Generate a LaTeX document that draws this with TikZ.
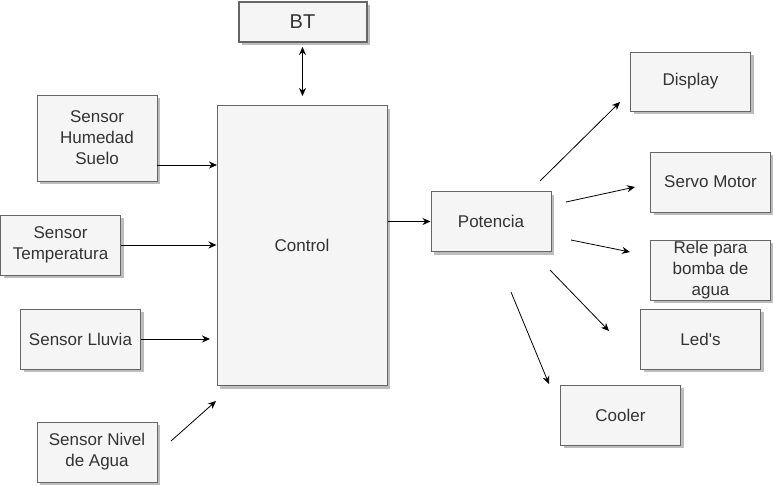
\documentclass[tikz,border=0pt]{standalone}
\usepackage{fontspec}
\setmainfont{Liberation Sans}
\usetikzlibrary{shadows,arrows.meta}
\definecolor{boxfill}{HTML}{F5F5F5}
\definecolor{boxline}{HTML}{666666}
\definecolor{boxtext}{HTML}{333333}
\definecolor{shad}{HTML}{BDBDBD}
\tikzset{
  blk/.style={rectangle, draw=boxline, fill=boxfill, line width=1pt, inner sep=0pt,
    minimum width=120pt, minimum height=60pt, align=center, text=boxtext,
    font=\fontsize{17}{21}\selectfont,
    drop shadow={shadow xshift=3pt, shadow yshift=-3pt, fill=shad, opacity=1}},
  arr/.style={-{Stealth[length=8pt,width=7pt]}, line width=0.8pt, black},
  darr/.style={{Stealth[length=8pt,width=7pt]}-{Stealth[length=8pt,width=7pt]}, line width=0.8pt, black}
}
\begin{document}
\begin{tikzpicture}[x=1pt,y=-1pt]
\useasboundingbox (0,0) rectangle (773,485);
\node[blk, minimum width=128pt, minimum height=40pt, line width=2pt, font=\fontsize{20}{24}\selectfont] (bt) at (302.5,22) {BT};
\node[blk, minimum width=170pt, minimum height=280pt] (ctrl) at (302,245.5) {Control};
\node[blk, minimum height=86pt] (hum) at (97,138) {Sensor\\Humedad\\Suelo};
\node[blk] (temp) at (60.5,245) {Sensor\\Temperatura};
\node[blk] (llu) at (80.5,339) {Sensor Lluvia};
\node[blk] (niv) at (97,452) {Sensor Nivel\\de Agua};
\node[blk] (pot) at (491,221.5) {Potencia};
\node[blk, minimum height=59pt] (disp) at (690.5,81.5) {Display};
\node[blk] (servo) at (710.5,182) {Servo Motor};
\node[blk] (rele) at (710.5,270) {Rele para\\bomba de\\agua};
\node[blk] (leds) at (700.5,339) {Led\textquotesingle s};
\node[blk] (cool) at (620.5,415) {Cooler};

\coordinate (bt1) at (302.5,47);
\coordinate (bt2) at (302.5,96);
\coordinate (h1) at (157,165);
\coordinate (h2) at (217,165);
\coordinate (l2) at (210,339);
\coordinate (n1) at (171,441);
\coordinate (n2) at (216,401);
\coordinate (d1) at (540,181);
\coordinate (d2) at (620,102);
\coordinate (s1) at (566,202);
\coordinate (s2) at (635,187);
\coordinate (r1) at (571,240);
\coordinate (r2) at (630,252);
\coordinate (e1) at (550,270);
\coordinate (e2) at (609,331);
\coordinate (c1) at (511,292);
\coordinate (c2) at (549,384);

\draw[darr] (bt1) -- (bt2);
\draw[arr] (h1) -- (h2);
\draw[arr] (temp.east) -- (ctrl.west |- temp.east);
\draw[arr] (llu.east) -- (l2);
\draw[arr] (n1) -- (n2);
\draw[arr] (ctrl.east |- pot.west) -- (pot.west);
\draw[arr] (d1) -- (d2);
\draw[arr] (s1) -- (s2);
\draw[arr] (r1) -- (r2);
\draw[arr] (e1) -- (e2);
\draw[arr] (c1) -- (c2);
\end{tikzpicture}
\end{document}
